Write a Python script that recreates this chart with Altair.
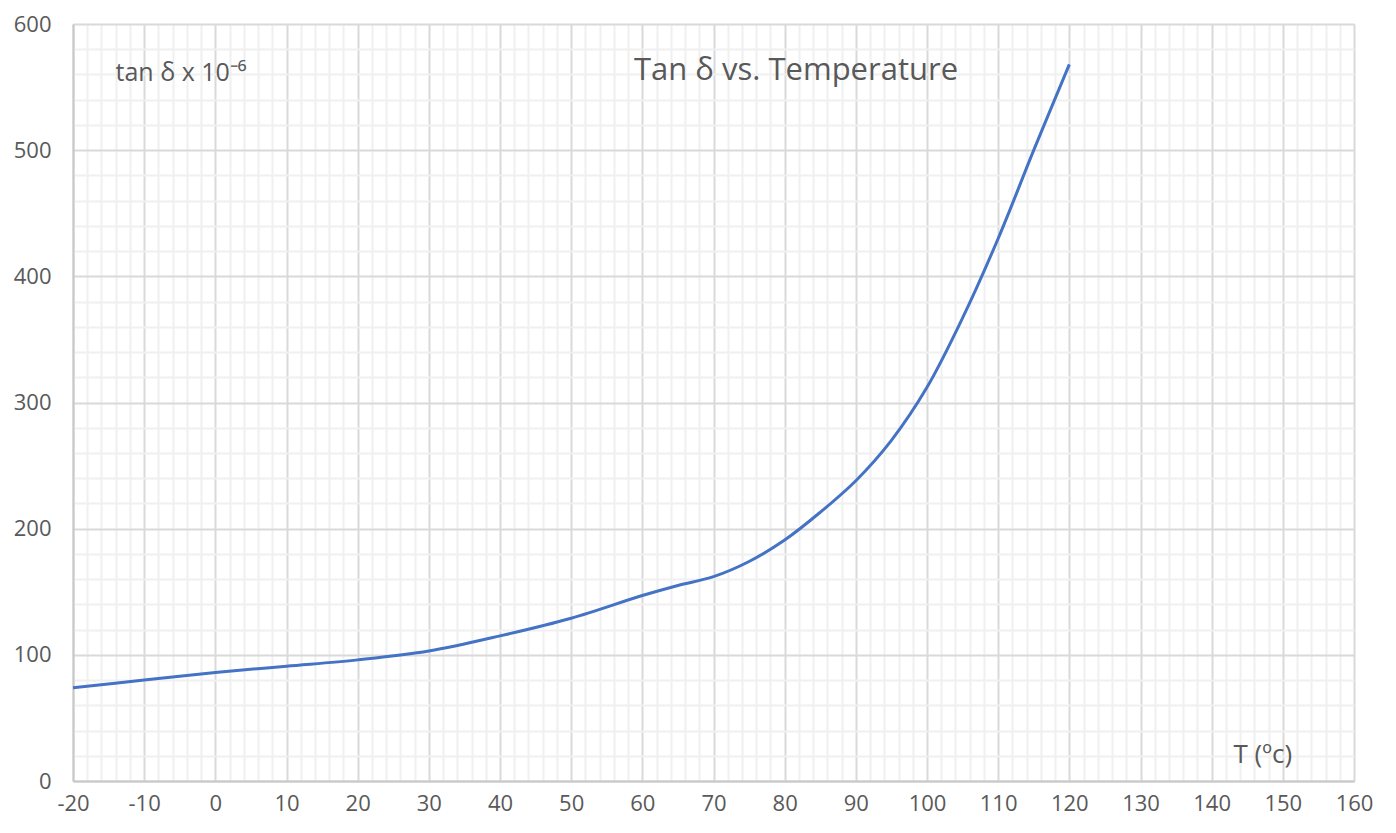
import altair as alt
import pandas as pd

temps = [-20, -10, 0, 10, 20, 30, 40, 50, 60, 65, 70, 75, 80, 85, 90, 95, 100, 105, 110, 115, 120]
tan_delta = [74, 80, 86, 91, 96, 103, 115, 129, 147, 155, 162, 174, 191, 213, 238, 270, 312, 367, 430, 500, 568]

x_ticks = list(range(-20, 161, 2))
y_ticks = list(range(0, 601, 20))

df = pd.DataFrame({"T": temps, "tan": tan_delta})

FONT = "Open Sans"
GRAY = "#595959"

x_axis = alt.Axis(
    values=x_ticks,
    labelExpr="datum.value % 10 === 0 ? toString(datum.value) : ''",
    labelOverlap=False,
    labelFlush=False,
    labelFont=FONT,
    labelFontSize=22,
    labelColor=GRAY,
    labelPadding=12,
    ticks=False,
    domainColor="#c8c8c8",
    domainWidth=2,
    gridColor={"condition": {"test": "datum.value % 10 === 0", "value": "#d9d9d9"}, "value": "#f0f0f0"},
    gridWidth=2,
    title="T (ºc)",
    titleFont=FONT,
    titleFontSize=26,
    titleFontWeight="normal",
    titleColor=GRAY,
    titleAngle=0,
    titleAlign="left",
    titleBaseline="middle",
    titleX=1160,
    titleY=-27,
)

y_axis = alt.Axis(
    values=y_ticks,
    labelExpr="datum.value % 100 === 0 ? toString(datum.value) : ''",
    labelOverlap=False,
    labelFlush=False,
    labelFont=FONT,
    labelFontSize=22,
    labelColor=GRAY,
    labelPadding=22,
    ticks=False,
    domainColor="#c8c8c8",
    domainWidth=2,
    gridColor={"condition": {"test": "datum.value % 100 === 0", "value": "#d9d9d9"}, "value": "#f0f0f0"},
    gridWidth=2,
    title="tan δ x 10⁻⁶",
    titleFont=FONT,
    titleFontSize=25,
    titleFontWeight="normal",
    titleColor=GRAY,
    titleAngle=0,
    titleAlign="left",
    titleBaseline="middle",
    titleX=42,
    titleY=48,
)

chart = (
    alt.Chart(df)
    .mark_line(color="#4472C4", strokeWidth=3, interpolate="catmull-rom")
    .encode(
        x=alt.X("T:Q", scale=alt.Scale(domain=[-20, 160], nice=False, zero=False), axis=x_axis),
        y=alt.Y("tan:Q", scale=alt.Scale(domain=[0, 600], nice=False, zero=False), axis=y_axis),
    )
    .properties(
        width=1281,
        height=757,
        autosize="none",
        padding={"left": 65, "top": 16, "right": 34, "bottom": 40},
        title=alt.TitleParams(
            text="Tan δ vs. Temperature",
            anchor="start",
            orient="top",
            frame="group",
            offset=0,
            dx=561,
            dy=74,
            baseline="top",
            font=FONT,
            fontSize=31,
            fontWeight="normal",
            color=GRAY,
        ),
    )
    .configure_view(stroke=None)
    .configure(background="white")
)

chart.save("out.html", embed_options={"renderer": "svg", "actions": False})
